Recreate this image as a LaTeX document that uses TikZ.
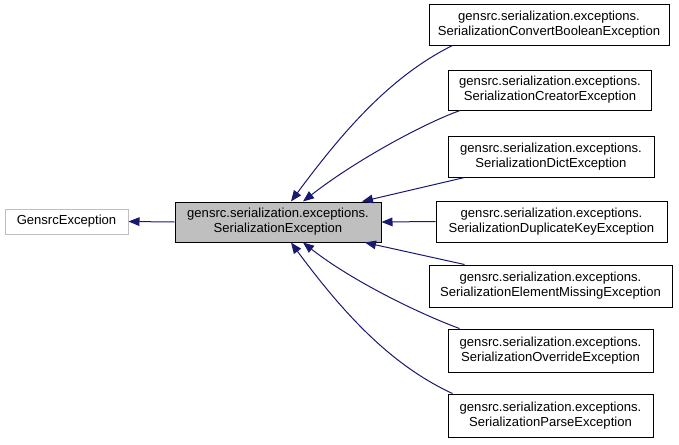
\documentclass[tikz,border=0pt]{standalone}
\usepackage{fontspec}
\setmainfont{Liberation Sans}
\usetikzlibrary{arrows.meta,calc}
\definecolor{edgeblue}{HTML}{191970}
\definecolor{basefill}{HTML}{BFBFBF}
\begin{document}
\begin{tikzpicture}[x=0.75pt,y=-0.75pt,
  cls/.style={draw=black,line width=0.75pt,fill=white,rectangle,inner sep=0pt,align=center,
    font=\fontsize{9.8}{11.2}\selectfont},
  inh/.style={draw=edgeblue,line width=0.75pt,-{Triangle[length=8.25pt,width=6.5pt]},fill=none},
]
\useasboundingbox (0,0) rectangle (679,444);
\node[cls,draw=basefill,minimum width=92.25pt,minimum height=18.75pt] (gx) at (66.5,221.5) {GensrcException};
\node[cls,fill=basefill,minimum width=154.5pt,minimum height=30pt] (se) at (278,222) {gensrc.serialization.exceptions.\\SerializationException};
\node[cls,minimum width=180pt,minimum height=30.75pt] (cb) at (549,24.5) {gensrc.serialization.exceptions.\\SerializationConvertBooleanException};
\node[cls,minimum width=152.25pt,minimum height=30pt] (cr) at (550,90) {gensrc.serialization.exceptions.\\SerializationCreatorException};
\node[cls,minimum width=154.5pt,minimum height=30.75pt] (di) at (551,156.5) {gensrc.serialization.exceptions.\\SerializationDictException};
\node[cls,minimum width=173.25pt,minimum height=30.75pt] (dk) at (551.5,221.5) {gensrc.serialization.exceptions.\\SerializationDuplicateKeyException};
\node[cls,minimum width=182.25pt,minimum height=31.5pt] (em) at (550.5,286) {gensrc.serialization.exceptions.\\SerializationElementMissingException};
\node[cls,minimum width=153.75pt,minimum height=32.25pt] (ov) at (550.5,350.5) {gensrc.serialization.exceptions.\\SerializationOverrideException};
\node[cls,minimum width=153.75pt,minimum height=32.25pt] (pa) at (550.5,415.5) {gensrc.serialization.exceptions.\\SerializationParseException};

\draw[inh] (se.west) -- (gx.east);
\draw[inh] (dk.west) -- (se.east);
\draw[inh] ($(cb.south west)+(24,0)$) .. controls (393,75) and (346,127) .. ($(se.north)+(13,0)$);
\draw[inh] ($(cr.south west)+(12,0)$) .. controls (420,125) and (352,163) .. ($(se.north)+(25,0)$);
\draw[inh] ($(di.south west)+(17,0)$) -- ($(se.north)+(84,0)$);
\draw[inh] ($(em.north west)+(36,0)$) -- ($(se.south)+(87,0)$);
\draw[inh] ($(ov.north west)+(12,0)$) .. controls (420,314) and (352,281) .. ($(se.south)+(25,0)$);
\draw[inh] ($(pa.north west)+(5,0)$) .. controls (393,366) and (346,317) .. ($(se.south)+(13,0)$);
\end{tikzpicture}
\end{document}
